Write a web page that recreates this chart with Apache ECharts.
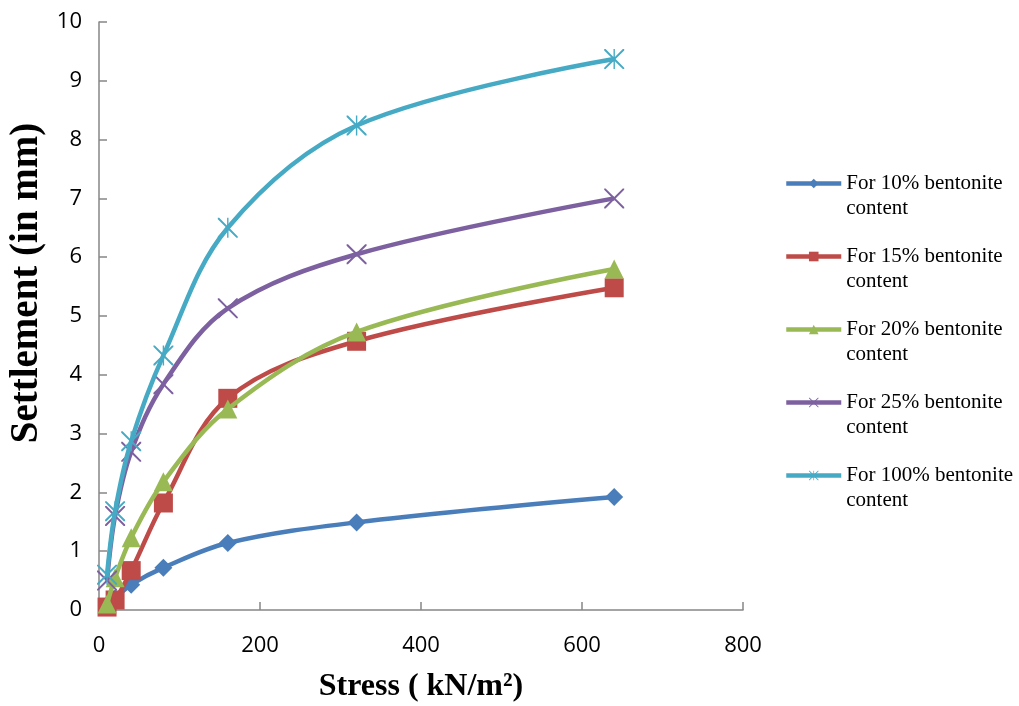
<!DOCTYPE html>
<html>
<head>
<meta charset="utf-8">
<script src="https://cdn.jsdelivr.net/npm/echarts@6/dist/echarts.min.js"></script>
<style>
html,body{margin:0;padding:0;background:#fff;}
#chart{width:1019px;height:706px;}
</style>
</head>
<body>
<div id="chart"></div>
<script>
const stress = [10, 20, 40, 80, 160, 320, 640];
const seriesNames = [
  'For 10% bentonite\ncontent',
  'For 15% bentonite\ncontent',
  'For 20% bentonite\ncontent',
  'For 25% bentonite\ncontent',
  'For 100% bentonite\ncontent'
];
const settle10 = [0.08, 0.2, 0.43, 0.72, 1.14, 1.49, 1.92];
const settle15 = [0.05, 0.17, 0.67, 1.82, 3.6, 4.57, 5.48];
const settle20 = [0.1, 0.55, 1.23, 2.18, 3.42, 4.73, 5.8];
const settle25 = [0.5, 1.6, 2.69, 3.84, 5.13, 6.05, 7.0];
const settle100 = [0.6, 1.68, 2.87, 4.33, 6.5, 8.24, 9.37];
const xTicks = [0, 200, 400, 600, 800];
const yTicks = [0, 1, 2, 3, 4, 5, 6, 7, 8, 9, 10];

const colors = ['#4A7EBB', '#BE4B48', '#98B954', '#7D60A0', '#46AAC5'];
const xPath = 'path://M0,0 L1.4,0 L10,8.6 L18.6,0 L20,0 L20,1.4 L11.4,10 L20,18.6 L20,20 L18.6,20 L10,11.4 L1.4,20 L0,20 L0,18.6 L8.6,10 L0,1.4 Z';
const starPath = 'path://M0,0 L1.4,0 L9.3,7.9 L9.3,0 L10.7,0 L10.7,7.9 L18.6,0 L20,0 L20,1.4 L11.4,10 L20,18.6 L20,20 L18.6,20 L10.7,12.1 L10.7,20 L9.3,20 L9.3,12.1 L1.4,20 L0,20 L0,18.6 L8.6,10 L0,1.4 Z';
const symbols = ['diamond', 'rect', 'triangle', xPath, starPath];
const symbolSizes = [18, 19, 19, 20, 20];
const allData = [settle10, settle15, settle20, settle25, settle100];

const series = allData.map((vals, i) => ({
  name: seriesNames[i],
  type: 'line',
  smooth: 0.35,
  data: stress.map((s, j) => [s, vals[j]]),
  symbol: symbols[i],
  symbolSize: symbolSizes[i],
  showAllSymbol: true,
  lineStyle: {width: 4.5, color: colors[i]},
  itemStyle: {color: colors[i]},
  z: 2 + i
}));

const chart = echarts.init(document.getElementById('chart'), null, {renderer: 'canvas'});
chart.setOption({
  animation: false,
  backgroundColor: '#fff',
  color: colors,
  grid: {left: 99, right: 276, top: 22, bottom: 96, containLabel: false, outerBoundsMode: 'none'},
  xAxis: {
    type: 'value', min: 0, max: 800, interval: 200,
    name: 'Stress ( kN/m²)', nameLocation: 'middle', nameGap: 61,
    nameTextStyle: {fontFamily: 'Liberation Serif', fontWeight: 'bold', fontSize: 32, color: '#000'},
    axisLine: {show: true, lineStyle: {color: '#868686', width: 1.5}},
    axisTick: {show: true, inside: true, length: 8, lineStyle: {color: '#868686', width: 1.5}},
    axisLabel: {fontFamily: 'Open Sans', fontSize: 22, color: '#000', margin: 25},
    splitLine: {show: false}
  },
  yAxis: {
    type: 'value', min: 0, max: 10, interval: 1,
    name: 'Settlement (in mm)', nameLocation: 'middle', nameGap: 53, nameRotate: 90,
    nameTextStyle: {fontFamily: 'Liberation Serif', fontWeight: 'bold', fontSize: 39, color: '#000', padding: [0, 0, 0, 66]},
    axisLine: {show: true, lineStyle: {color: '#868686', width: 1.5}},
    axisTick: {show: true, inside: true, length: 8, lineStyle: {color: '#868686', width: 1.5}},
    axisLabel: {fontFamily: 'Open Sans', fontSize: 22, color: '#000', margin: 17},
    splitLine: {show: false}
  },
  legend: {
    orient: 'vertical', left: 784, top: 146, padding: 0,
    itemWidth: 55, itemHeight: 12, itemGap: -2,
    lineStyle: {width: 4.5},
    formatter: name => '\n' + name,
    textStyle: {fontFamily: 'Liberation Serif', fontSize: 21, color: '#000', lineHeight: 25},
    data: seriesNames
  },
  series: series
});
</script>
</body>
</html>
